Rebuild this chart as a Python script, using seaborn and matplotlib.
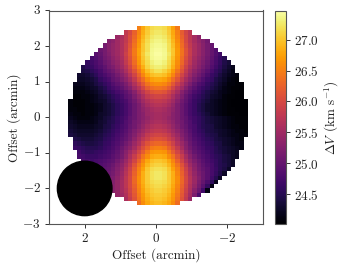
import numpy as np
import pandas as pd
import matplotlib
matplotlib.use("Agg")
import matplotlib.pyplot as plt
from matplotlib.patches import Circle
import seaborn as sns

# Each row is read outward from the map's centre column, top row first.
rows_left = [
[27.2,27.15,27.0,26.8,26.5],
[27.25,27.2,27.05,26.85,26.55,26.25,26.0,25.8],
[27.3,27.25,27.1,26.9,26.6,26.3,26.05,25.8,25.6,25.45],
[27.35,27.3,27.15,26.95,26.65,26.35,26.05,25.8,25.65,25.5,25.35,25.25],
[27.4,27.35,27.2,27.0,26.7,26.4,26.1,25.85,25.65,25.5,25.4,25.3,25.15],
[27.42,27.38,27.2,27.0,26.75,26.45,26.15,25.85,25.65,25.5,25.4,25.3,25.15,25.05],
[27.45,27.4,27.25,27.05,26.75,26.45,26.15,25.9,25.65,25.5,25.4,25.25,25.15,25.0,24.9],
[27.42,27.38,27.2,27.0,26.7,26.4,26.1,25.85,25.6,25.45,25.35,25.2,25.1,24.95,24.85,24.75],
[27.38,27.32,27.15,26.95,26.65,26.35,26.05,25.8,25.55,25.4,25.3,25.15,25.05,24.9,24.8,24.7,24.6],
[27.3,27.25,27.1,26.85,26.55,26.25,25.95,25.7,25.5,25.35,25.2,25.1,24.95,24.85,24.75,24.65,24.55,24.45],
[27.2,27.1,26.95,26.7,26.4,26.1,25.85,25.6,25.4,25.25,25.1,25.0,24.9,24.75,24.65,24.55,24.45,24.4],
[27.0,26.95,26.8,26.55,26.25,25.95,25.7,25.45,25.3,25.15,25.0,24.9,24.8,24.7,24.55,24.45,24.35,24.3,24.3],
[26.8,26.75,26.6,26.35,26.1,25.8,25.55,25.35,25.2,25.05,24.95,24.8,24.7,24.6,24.45,24.35,24.3,24.25,24.25],
[26.6,26.55,26.4,26.15,25.9,25.65,25.4,25.2,25.05,24.95,24.85,24.7,24.6,24.5,24.4,24.3,24.25,24.2,24.2,24.2],
[26.4,26.35,26.2,25.95,25.7,25.5,25.25,25.1,24.95,24.85,24.75,24.65,24.5,24.4,24.3,24.25,24.2,24.15,24.15,24.15],
[26.15,26.1,25.95,25.75,25.55,25.3,25.1,24.95,24.85,24.75,24.65,24.55,24.45,24.35,24.25,24.2,24.15,24.1,24.1,24.1],
[25.95,25.9,25.8,25.6,25.4,25.2,25.0,24.9,24.75,24.65,24.55,24.45,24.35,24.3,24.2,24.15,24.1,24.1,24.05,24.05],
[25.8,25.75,25.65,25.5,25.3,25.1,24.95,24.8,24.7,24.6,24.5,24.4,24.3,24.25,24.2,24.15,24.1,24.05,24.05,24.05,24.1],
[25.7,25.65,25.55,25.4,25.2,25.05,24.9,24.75,24.65,24.55,24.45,24.35,24.3,24.2,24.15,24.1,24.1,24.05,24.05,24.05,24.1],
[25.6,25.55,25.45,25.35,25.2,25.05,24.9,24.75,24.65,24.55,24.45,24.35,24.3,24.2,24.15,24.1,24.1,24.05,24.05,24.1,24.1],
[25.55,25.5,25.45,25.3,25.2,25.05,24.9,24.75,24.65,24.55,24.45,24.35,24.3,24.25,24.15,24.1,24.1,24.05,24.1,24.1,24.15],
[25.55,25.5,25.4,25.3,25.2,25.05,24.95,24.8,24.7,24.6,24.5,24.4,24.35,24.25,24.2,24.15,24.1,24.1,24.1,24.15,24.2],
[25.6,25.55,25.45,25.35,25.2,25.1,24.95,24.85,24.7,24.6,24.5,24.45,24.35,24.3,24.2,24.15,24.15,24.15,24.15,24.2,24.25],
[25.7,25.65,25.55,25.4,25.25,25.1,25.0,24.85,24.75,24.65,24.55,24.45,24.4,24.3,24.25,24.2,24.2,24.2,24.2,24.25,24.3],
[25.8,25.75,25.65,25.5,25.35,25.2,25.05,24.9,24.8,24.7,24.6,24.5,24.45,24.35,24.3,24.25,24.25,24.25,24.25,24.3,24.35],
[25.95,25.9,25.8,25.6,25.45,25.25,25.1,24.95,24.85,24.75,24.65,24.55,24.5,24.4,24.35,24.3,24.3,24.3,24.3,24.35,24.4],
[26.1,26.05,25.9,25.75,25.55,25.35,25.15,25.0,24.9,24.8,24.7,24.6,24.55,24.45,24.4,24.35,24.35,24.35,24.4,24.45],
[26.3,26.25,26.1,25.9,25.65,25.45,25.25,25.1,24.95,24.85,24.75,24.65,24.6,24.5,24.45,24.4,24.4,24.45,24.5,24.55],
[26.5,26.45,26.25,26.05,25.8,25.55,25.35,25.2,25.05,24.9,24.8,24.7,24.65,24.55,24.5,24.5,24.5,24.55,24.6,24.65],
[26.7,26.65,26.45,26.2,25.95,25.7,25.5,25.3,25.1,24.95,24.85,24.75,24.7,24.65,24.6,24.55,24.55,24.6,24.7],
[26.85,26.8,26.6,26.4,26.1,25.85,25.6,25.35,25.15,25.0,24.9,24.8,24.75,24.7,24.65,24.65,24.65,24.7,24.75],
[27.0,26.95,26.8,26.55,26.25,25.95,25.7,25.45,25.25,25.1,24.95,24.9,24.85,24.8,24.75,24.7,24.75,24.8],
[27.1,27.05,26.9,26.65,26.4,26.1,25.8,25.55,25.35,25.2,25.05,24.95,24.9,24.85,24.8,24.8,24.85,24.9],
[27.2,27.15,27.0,26.75,26.5,26.2,25.9,25.65,25.4,25.25,25.1,25.0,24.95,24.9,24.9,24.9,24.95],
[27.25,27.2,27.05,26.85,26.55,26.25,25.95,25.7,25.45,25.3,25.15,25.05,25.0,24.95,24.95,25.0],
[27.25,27.2,27.05,26.85,26.6,26.3,26.0,25.75,25.5,25.35,25.2,25.1,25.05,25.0,25.05],
[27.2,27.15,27.05,26.85,26.6,26.3,26.0,25.75,25.55,25.4,25.25,25.15,25.1,25.1],
[27.15,27.1,27.0,26.8,26.55,26.25,26.0,25.75,25.55,25.4,25.3,25.2,25.15],
[27.1,27.05,26.95,26.75,26.5,26.2,25.95,25.7,25.55,25.4,25.3,25.25],
[27.05,27.0,26.9,26.7,26.45,26.15,25.9,25.65,25.5,25.4],
[27.0,26.95,26.85,26.65,26.4,26.1,25.85,25.6],
[26.95,26.9,26.8,26.6,26.35],
]
rows_right = [
[27.2,27.15,27.0,26.75,26.45],
[27.25,27.2,27.05,26.8,26.5,26.2,25.95,25.75],
[27.3,27.25,27.1,26.85,26.55,26.25,26.0,25.75,25.55,25.35],
[27.35,27.3,27.15,26.9,26.6,26.3,26.0,25.75,25.55,25.4,25.25,25.1],
[27.4,27.35,27.2,26.95,26.65,26.35,26.05,25.8,25.6,25.45,25.3,25.15,25.0],
[27.42,27.38,27.2,27.0,26.7,26.4,26.1,25.85,25.6,25.45,25.3,25.15,25.0,24.85],
[27.45,27.4,27.25,27.0,26.7,26.4,26.1,25.85,25.6,25.45,25.3,25.15,25.0,24.85,24.7],
[27.42,27.38,27.2,26.95,26.65,26.35,26.05,25.8,25.55,25.4,25.25,25.1,24.95,24.8,24.65,24.5],
[27.38,27.32,27.15,26.9,26.6,26.3,26.0,25.75,25.5,25.35,25.2,25.05,24.9,24.75,24.6,24.45,24.35],
[27.3,27.25,27.1,26.85,26.55,26.2,25.9,25.65,25.45,25.3,25.15,25.0,24.85,24.7,24.55,24.4,24.3,24.2],
[27.2,27.1,26.95,26.7,26.4,26.1,25.8,25.55,25.35,25.2,25.05,24.9,24.75,24.6,24.5,24.35,24.25,24.15],
[27.0,26.95,26.8,26.55,26.25,25.95,25.7,25.45,25.25,25.1,24.95,24.8,24.65,24.55,24.4,24.3,24.2,24.15,24.1],
[26.8,26.75,26.6,26.35,26.1,25.8,25.55,25.35,25.15,25.0,24.85,24.7,24.6,24.45,24.35,24.25,24.15,24.1,24.05],
[26.6,26.55,26.4,26.15,25.9,25.65,25.4,25.2,25.0,24.85,24.75,24.6,24.5,24.4,24.3,24.2,24.1,24.1,24.05,24.05],
[26.4,26.35,26.2,25.95,25.7,25.5,25.25,25.05,24.9,24.75,24.65,24.55,24.45,24.35,24.25,24.15,24.1,24.05,24.05,24.03],
[26.15,26.1,25.95,25.75,25.55,25.3,25.1,24.95,24.8,24.7,24.55,24.45,24.35,24.3,24.2,24.15,24.1,24.05,24.03,24.03],
[25.95,25.9,25.8,25.6,25.4,25.2,25.0,24.85,24.7,24.6,24.5,24.4,24.3,24.25,24.2,24.1,24.05,24.05,24.03,24.03],
[25.8,25.75,25.65,25.5,25.3,25.1,24.95,24.8,24.65,24.55,24.45,24.35,24.25,24.2,24.15,24.1,24.05,24.03,24.03,24.03,24.03],
[25.7,25.65,25.55,25.4,25.2,25.05,24.9,24.75,24.65,24.5,24.4,24.3,24.25,24.2,24.15,24.1,24.05,24.03,24.03,24.03,24.03],
[25.6,25.55,25.45,25.35,25.2,25.05,24.9,24.75,24.65,24.5,24.4,24.3,24.25,24.2,24.15,24.1,24.05,24.05,24.03,24.03,24.03],
[25.55,25.5,25.45,25.3,25.2,25.05,24.9,24.75,24.65,24.55,24.45,24.35,24.25,24.2,24.15,24.1,24.05,24.05,24.05,24.03,24.03],
[25.55,25.5,25.4,25.3,25.2,25.05,24.95,24.8,24.7,24.6,24.5,24.4,24.35,24.3,24.25,24.2,24.15,24.1,24.05,24.05,24.05],
[25.6,25.55,25.45,25.35,25.2,25.1,24.95,24.85,24.7,24.6,24.5,24.4,24.35,24.3,24.25,24.2,24.15,24.1,24.05,24.05,24.05],
[25.7,25.65,25.55,25.4,25.25,25.1,25.0,24.85,24.75,24.6,24.5,24.45,24.4,24.3,24.25,24.2,24.15,24.1,24.1,24.05,24.05],
[25.8,25.75,25.65,25.5,25.35,25.2,25.05,24.9,24.75,24.65,24.55,24.45,24.4,24.35,24.3,24.25,24.2,24.15,24.1,24.1,24.05],
[25.95,25.9,25.8,25.6,25.45,25.25,25.1,24.95,24.8,24.7,24.6,24.5,24.45,24.4,24.3,24.25,24.2,24.15,24.15,24.1,24.1],
[26.1,26.05,25.9,25.75,25.55,25.35,25.15,25.0,24.85,24.75,24.65,24.55,24.5,24.4,24.35,24.3,24.25,24.2,24.15,24.1],
[26.3,26.25,26.1,25.9,25.65,25.45,25.25,25.05,24.9,24.8,24.7,24.6,24.55,24.45,24.4,24.3,24.25,24.2,24.15,24.15],
[26.5,26.45,26.25,26.05,25.8,25.55,25.3,25.1,24.95,24.85,24.75,24.65,24.6,24.5,24.4,24.35,24.3,24.25,24.2,24.15],
[26.7,26.65,26.45,26.2,25.95,25.7,25.4,25.2,25.0,24.9,24.8,24.7,24.6,24.5,24.45,24.35,24.3,24.25,24.2],
[26.85,26.8,26.6,26.4,26.1,25.85,25.55,25.3,25.1,24.95,24.85,24.75,24.65,24.55,24.5,24.4,24.35,24.25,24.2],
[27.0,26.95,26.8,26.55,26.25,25.95,25.65,25.4,25.2,25.05,24.9,24.8,24.7,24.6,24.5,24.4,24.35,24.25],
[27.1,27.05,26.9,26.65,26.4,26.1,25.8,25.5,25.3,25.1,24.95,24.85,24.75,24.6,24.5,24.45,24.35,24.25],
[27.2,27.15,27.0,26.75,26.5,26.2,25.9,25.6,25.35,25.15,25.0,24.9,24.75,24.65,24.5,24.4,24.25],
[27.25,27.2,27.05,26.85,26.55,26.25,25.95,25.65,25.4,25.2,25.05,24.9,24.75,24.6,24.45,24.25],
[27.25,27.2,27.05,26.85,26.6,26.3,26.0,25.7,25.45,25.25,25.05,24.9,24.7,24.5,24.25],
[27.2,27.15,27.05,26.85,26.6,26.3,26.0,25.7,25.45,25.2,25.0,24.8,24.55,24.2],
[27.15,27.1,27.0,26.8,26.55,26.25,25.95,25.65,25.4,25.15,24.9,24.6,24.15],
[27.1,27.05,26.95,26.75,26.5,26.2,25.9,25.6,25.3,25.05,24.7,24.15],
[27.05,27.0,26.9,26.7,26.45,26.15,25.85,25.55,25.2,24.8],
[27.0,26.95,26.85,26.65,26.4,26.1,25.8,25.45],
[26.95,26.9,26.8,26.6,26.35],
]
x_ticks = [2, 0, -2]
x_tick_labels = ["$2$", "$0$", "$-2$"]
y_ticks = [3, 2, 1, 0, -1, -2, -3]
y_tick_labels = ["$3$", "$2$", "$1$", "$0$", "$-1$", "$-2$", "$-3$"]
cbar_ticks = [24.5, 25.0, 25.5, 26.0, 26.5, 27.0]
cbar_tick_labels = ["$24.5$", "$25.0$", "$25.5$", "$26.0$", "$26.5$", "$27.0$"]
value_min, value_max = 24.02, 27.47
cell = 0.12
left_offset, top_offset = 2.46, 2.56
beam_offset, beam_radius = 2.0, 0.765

sns.set_style("ticks")
plt.rcParams.update({
    "font.family": "cmr10", "mathtext.fontset": "cm", "font.size": 9,
    "axes.formatter.use_mathtext": True, "axes.unicode_minus": False,
})

half = 21
grid = np.full((2 * half, 2 * half), np.nan)
for r, (lf, rt) in enumerate(zip(rows_left, rows_right)):
    grid[r, half - len(lf):half] = lf[::-1]
    grid[r, half:half + len(rt)] = rt
table = pd.DataFrame(grid)

W, H = 342, 268
fig = plt.figure(figsize=(W / 100, H / 100), dpi=100)
ax = fig.add_axes([49 / W, 1 - 224 / H, 214 / W, 213.5 / H])
cax = fig.add_axes([275 / W, 1 - 224 / H, 10.5 / W, 213.5 / H])
sns.heatmap(table, ax=ax, cbar_ax=cax, cmap="inferno", vmin=value_min, vmax=value_max,
            mask=np.isnan(grid), cbar_kws={"ticks": cbar_ticks}, square=False)

xp = lambda o: (left_offset - np.asarray(o, float)) / cell
yp = lambda o: (top_offset - np.asarray(o, float)) / cell
ax.set_xlim(xp(3), xp(-3))
ax.set_ylim(yp(-3), yp(3))
ax.set_xticks(xp(x_ticks), x_tick_labels, rotation=0)
ax.set_yticks(yp(y_ticks), y_tick_labels, rotation=0)
ax.set_xlabel("Offset (arcmin)", fontsize=9.5, labelpad=2)
ax.set_ylabel("Offset (arcmin)", fontsize=9.5, labelpad=1)
ax.tick_params(length=3, width=0.7, labelsize=9.5, color="#333333", pad=3, labelcolor="#222222")
ax.xaxis.label.set_color("#222222")
ax.yaxis.label.set_color("#222222")
for s in ax.spines.values():
    s.set_visible(True)
    s.set_linewidth(0.8)
    s.set_color("#555555")
ax.add_patch(Circle((xp(beam_offset), yp(-beam_offset)), beam_radius / cell, color="black", zorder=5))

cb = ax.collections[0].colorbar
cb.set_ticks(cbar_ticks, labels=cbar_tick_labels)
cb.ax.tick_params(length=3, width=0.7, labelsize=9.5, color="#333333", pad=3, labelcolor="#222222")
cb.set_label(r"$\Delta V$ (km s$^{-1}$)", fontsize=9.5, color="#222222", labelpad=3)
cb.outline.set_visible(True)
cb.outline.set_linewidth(0.8)
cb.outline.set_edgecolor("#555555")

fig.savefig("out.png", dpi=100)
